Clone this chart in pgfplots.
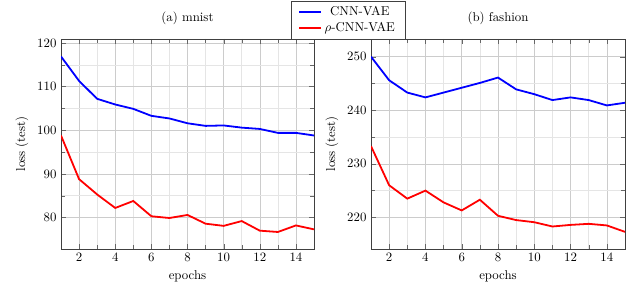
\documentclass[border=0pt]{standalone}
\usepackage{pgfplots}
\pgfplotsset{compat=1.18}
\begin{document}
\begin{tikzpicture}
\path[use as bounding box] (0pt,0pt) rectangle (499.2pt,228.54pt);
\pgfplotsset{
  every axis/.append style={
    scale only axis,
    height=163.8pt,
    xmin=1, xmax=15,
    xtick={2,4,...,14},
    grid=both, minor tick num=1,
    major grid style={gray!40, line width=0.4pt},
    minor grid style={gray!20, line width=0.4pt},
    axis line style={black!75},
    tick style={black!60},
    xlabel={epochs}, ylabel={loss (test)},
    title style={yshift=2pt},
  }
}
\begin{axis}[at={(47.58pt,34.32pt)}, anchor=south west, width=197.34pt,
  ymin=72.8, ymax=120.9, ytick={80,90,100,110,120},
  title={(a) mnist},
]
\addplot[blue, line width=1.4pt] coordinates {
(1,116.9)(2,111.3)(3,107.2)(4,105.9)(5,104.9)(6,103.3)(7,102.7)(8,101.6)(9,101.0)(10,101.1)(11,100.6)(12,100.3)(13,99.4)(14,99.4)(15,98.8)};
\addplot[red, line width=1.4pt] coordinates {
(1,98.8)(2,88.8)(3,85.3)(4,82.2)(5,83.8)(6,80.3)(7,79.9)(8,80.6)(9,78.6)(10,78.1)(11,79.2)(12,77.0)(13,76.7)(14,78.2)(15,77.3)};
\end{axis}
\begin{axis}[at={(289.38pt,34.32pt)}, anchor=south west, width=198.12pt,
  ymin=214.1, ymax=253.3, ytick={220,230,240,250},
  title={(b) fashion},
  legend style={at={(-0.0906,1.18)}, anchor=north, draw=black!75, inner xsep=6pt, cells={anchor=center}},
]
\addplot[blue, line width=1.4pt] coordinates {
(1,250.0)(2,245.6)(3,243.3)(4,242.4)(5,243.3)(6,244.2)(7,245.1)(8,246.1)(9,243.9)(10,243.0)(11,241.9)(12,242.4)(13,241.9)(14,240.9)(15,241.4)};
\addlegendentry{CNN-VAE}
\addplot[red, line width=1.4pt] coordinates {
(1,233.3)(2,226.0)(3,223.5)(4,225.0)(5,222.8)(6,221.3)(7,223.3)(8,220.3)(9,219.5)(10,219.1)(11,218.3)(12,218.6)(13,218.8)(14,218.5)(15,217.3)};
\addlegendentry{$\rho$-CNN-VAE}
\end{axis}
\end{tikzpicture}
\end{document}
